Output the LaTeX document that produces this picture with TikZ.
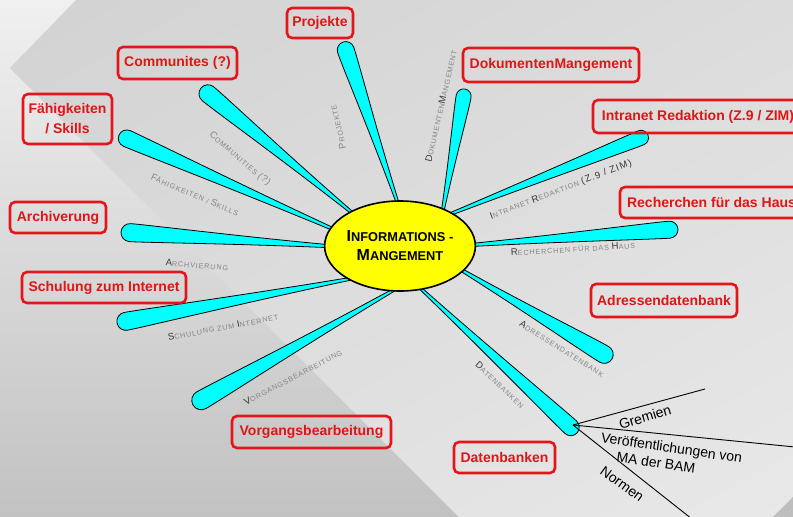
\documentclass[tikz,border=0pt]{standalone}
\usepackage{fontspec}
\setmainfont{Liberation Sans}
\newfontfamily\lblfont[LetterSpace=12]{Liberation Sans}
\usetikzlibrary{calc,shapes.geometric,shadings}
\definecolor{petalfill}{HTML}{00FFFF}
\definecolor{boxred}{HTML}{E5161B}
\definecolor{txtred}{HTML}{E01515}
\definecolor{lblgray}{HTML}{858585}
\definecolor{lbldark}{HTML}{383838}
\definecolor{ctryellow}{HTML}{FFFF00}
\definecolor{bgtop}{HTML}{F0F0F0}
\definecolor{bgbot}{HTML}{C2C2C2}
\definecolor{arUL}{HTML}{D2D2D2}
\definecolor{arUR}{HTML}{DCDCDC}
\definecolor{arLL}{HTML}{DEDEDE}
\definecolor{arLR}{HTML}{E8E8E8}
\definecolor{cornerdark}{HTML}{BEBEBE}
\newcommand\lblD[1]{{\color{lbldark}\fontsize{9.5}{10}\selectfont #1}}
\newcommand\lblG[1]{{\color{lblgray}\fontsize{9.5}{10}\selectfont #1}}
\newcommand\lblS[1]{{\color{lblgray}\fontsize{7.2}{8}\selectfont #1}}
\newcommand\petal[4]{%
\path[petal] let \p1=($(#2)-(#1)$), \n1={atan2(\y1,\x1)}, \n2={veclen(\x1,\y1)} in
 ([shift={(#1)},rotate=\n1]0,-1.2)
 .. controls ([shift={(#1)},rotate=\n1]{0.45*\n2},{-1.6-0.2*#3+(#4)})
 and ([shift={(#1)},rotate=\n1]{\n2-2.8*#3},{-#3+0.3*(#4)})
 .. ([shift={(#1)},rotate=\n1]{\n2-#3},{-#3})
 .. controls ([shift={(#1)},rotate=\n1]{\n2-0.45*#3},{-#3})
 and ([shift={(#1)},rotate=\n1]{\n2},{-0.55*#3})
 .. ([shift={(#1)},rotate=\n1]{\n2},0)
 .. controls ([shift={(#1)},rotate=\n1]{\n2},{0.55*#3})
 and ([shift={(#1)},rotate=\n1]{\n2-0.45*#3},{#3})
 .. ([shift={(#1)},rotate=\n1]{\n2-#3},{#3})
 .. controls ([shift={(#1)},rotate=\n1]{\n2-2.8*#3},{#3+0.3*(#4)})
 and ([shift={(#1)},rotate=\n1]{0.45*\n2},{1.6+0.2*#3+(#4)})
 .. ([shift={(#1)},rotate=\n1]0,1.2) -- cycle;}
\begin{document}
\begin{tikzpicture}[x=1pt,y=-1pt,
  petal/.style={draw=black, line width=0.8pt, fill=petalfill},
  topic/.style={draw=boxred, line width=2.6pt, rounded corners=5pt, text=txtred,
    font=\fontsize{14}{20}\selectfont\bfseries, inner sep=0pt, align=center},
  branch/.style={inner sep=0pt, font=\lblfont},
  sub/.style={inner sep=0pt, font=\fontsize{14}{17}\selectfont, text=black},
  subline/.style={draw=black, line width=0.9pt}]
\useasboundingbox (0,0) rectangle (793,517);
% background
\shade[top color=bgtop, bottom color=bgbot] (0,0) rectangle (793,517);
\shade[upper left=arUL, upper right=arUR, lower left=arLL, lower right=arLR]
  (76,0) -- (10,68) -- (459,517) -- (773,517) -- (793,497) -- (793,0) -- cycle;
\fill[cornerdark] (773,517) -- (793,497) -- (793,517) -- cycle;

% petal coordinates
\coordinate (bProj) at (399,207);  \coordinate (tProjP) at (343,42);
\coordinate (bDok)  at (442,215);  \coordinate (tDokP)  at (465,89);
\coordinate (bCom)  at (356,216);  \coordinate (tComP)  at (201,88);
\coordinate (bFah)  at (342,233);  \coordinate (tFahP)  at (119,135);
\coordinate (bArc)  at (341,247);  \coordinate (tArcP)  at (121,232);
\coordinate (bSch)  at (360,277);  \coordinate (tSchP)  at (117,323);
\coordinate (bVor)  at (399,287);  \coordinate (tVorP)  at (193,405);
\coordinate (bDat)  at (418,286);  \coordinate (tDatP)  at (577,433);
\coordinate (bAdr)  at (453,265);  \coordinate (tAdrP)  at (612,359);
\coordinate (bRec)  at (458,246);  \coordinate (tRecP)  at (678,229);
\coordinate (bInt)  at (443,217);  \coordinate (tIntP)  at (648,135);

\petal{bProj}{tProjP}{8.5}{0}
\petal{bDok}{tDokP}{7.5}{0}
\petal{bCom}{tComP}{9}{0}
\petal{bFah}{tFahP}{8.5}{0}
\petal{bArc}{tArcP}{9}{0}
\petal{bSch}{tSchP}{9}{0}
\petal{bVor}{tVorP}{9.5}{0}
\petal{bDat}{tDatP}{8.5}{0}
\petal{bAdr}{tAdrP}{9}{0}
\petal{bRec}{tRecP}{8.5}{0}
\petal{bInt}{tIntP}{7.5}{0}

% center
\node[ellipse, draw=black, line width=1.6pt, fill=ctryellow, minimum width=127pt,
  minimum height=90pt, inner sep=0pt, align=center,
  font=\bfseries\fontsize{12.8}{19}\selectfont] (im) at (400,246)
  {{\fontsize{16}{16}\selectfont I}NFORMATIONS -\\{\fontsize{16}{16}\selectfont M}ANGEMENT};

% branch labels
\node[branch, rotate=103]   (lProj) at (338,127) {\lblG{P}\lblS{ROJEKTE}};
\node[branch, rotate=77]    (lDok)  at (441,106) {\lblD{D}\lblS{OKUMENTEN}\lblD{M}\lblS{ANGEMENT}};
\node[branch, rotate=-40.6] (lCom)  at (240,159) {\lblG{C}\lblS{OMMUNITIES }\lblG{(?)}};
\node[branch, rotate=-23]   (lFah)  at (195,195) {\lblG{F}\lblS{ÄHIGKEITEN / }\lblG{S}\lblS{KILLS}};
\node[branch, rotate=-4.5]  (lArc)  at (197,265) {\lblD{A}\lblS{RCHVIERUNG}};
\node[branch, rotate=10.6]  (lSch)  at (223,327) {\lblD{S}\lblS{CHULUNG ZUM }\lblD{I}\lblS{NTERNET}};
\node[branch, rotate=27.7]  (lVor)  at (293,377) {\lblD{V}\lblS{ORGANGSBEARBEITUNG}};
\node[branch, rotate=-43]   (lDat)  at (500,385) {\lblD{D}\lblS{ATENBANKEN}};
\node[branch, rotate=-32]   (lAdr)  at (562,349) {\lblD{A}\lblS{DRESSENDATENBANK}};
\node[branch, rotate=3.4]   (lRec)  at (573,249) {\lblD{R}\lblS{ECHERCHEN FÜR DAS }\lblD{H}\lblS{AUS}};
\node[branch, rotate=20.8]  (lInt)  at (561,190) {\lblD{I}\lblS{NTRANET }\lblD{R}\lblS{EDAKTION }\lblD{(Z.9 / ZIM)}};

% topic boxes
\node[topic, minimum width=66pt,  minimum height=30pt] (tProj) at (320,23)    {Projekte};
\node[topic, minimum width=119pt, minimum height=32pt] (tCom)  at (177.5,63)  {Communites (?)};
\node[topic, minimum width=89pt,  minimum height=50pt] (tFah)  at (67.5,119)  {Fähigkeiten\\/ Skills};
\node[topic, minimum width=96pt,  minimum height=31pt] (tArc)  at (58,217.5)  {Archiverung};
\node[topic, minimum width=164pt, minimum height=31pt] (tSch)  at (104,287.5) {Schulung zum Internet};
\node[topic, minimum width=159pt, minimum height=32pt] (tVor)  at (311.5,432) {Vorgangsbearbeitung};
\node[topic, minimum width=101pt, minimum height=31pt] (tDat)  at (504.5,457.5) {Datenbanken};
\node[topic, minimum width=146pt, minimum height=33pt] (tAdr)  at (664,300.5) {Adressendatenbank};
\node[topic, minimum width=183pt, minimum height=31pt] (tRec)  at (711.5,202.5) {Recherchen für das Haus};
\node[topic, minimum width=210pt, minimum height=33pt] (tInt)  at (698,116.5) {Intranet Redaktion (Z.9 / ZIM)};
\node[topic, minimum width=176pt, minimum height=34pt] (tDok)  at (551,65)    {DokumentenMangement};

% Datenbanken sub-branches
\coordinate (hub) at (573,425);
\coordinate (eGre) at (705,389);
\coordinate (eVer) at (795,447);
\coordinate (eNor) at (692,519);
\draw[subline] (hub) -- (eGre);
\draw[subline] (hub) -- (eVer);
\draw[subline] (hub) -- (eNor);
\node[sub, rotate=17] (sGre) at (645,417) {Gremien};
\node[sub, rotate=-8.4, anchor=north west, align=left] (sVer) at (602,432)
  {Veröffentlichungen von\\\hspace*{18pt}MA der BAM};
\node[sub, rotate=-36] (sNor) at (622,484) {Normen};
\end{tikzpicture}
\end{document}
